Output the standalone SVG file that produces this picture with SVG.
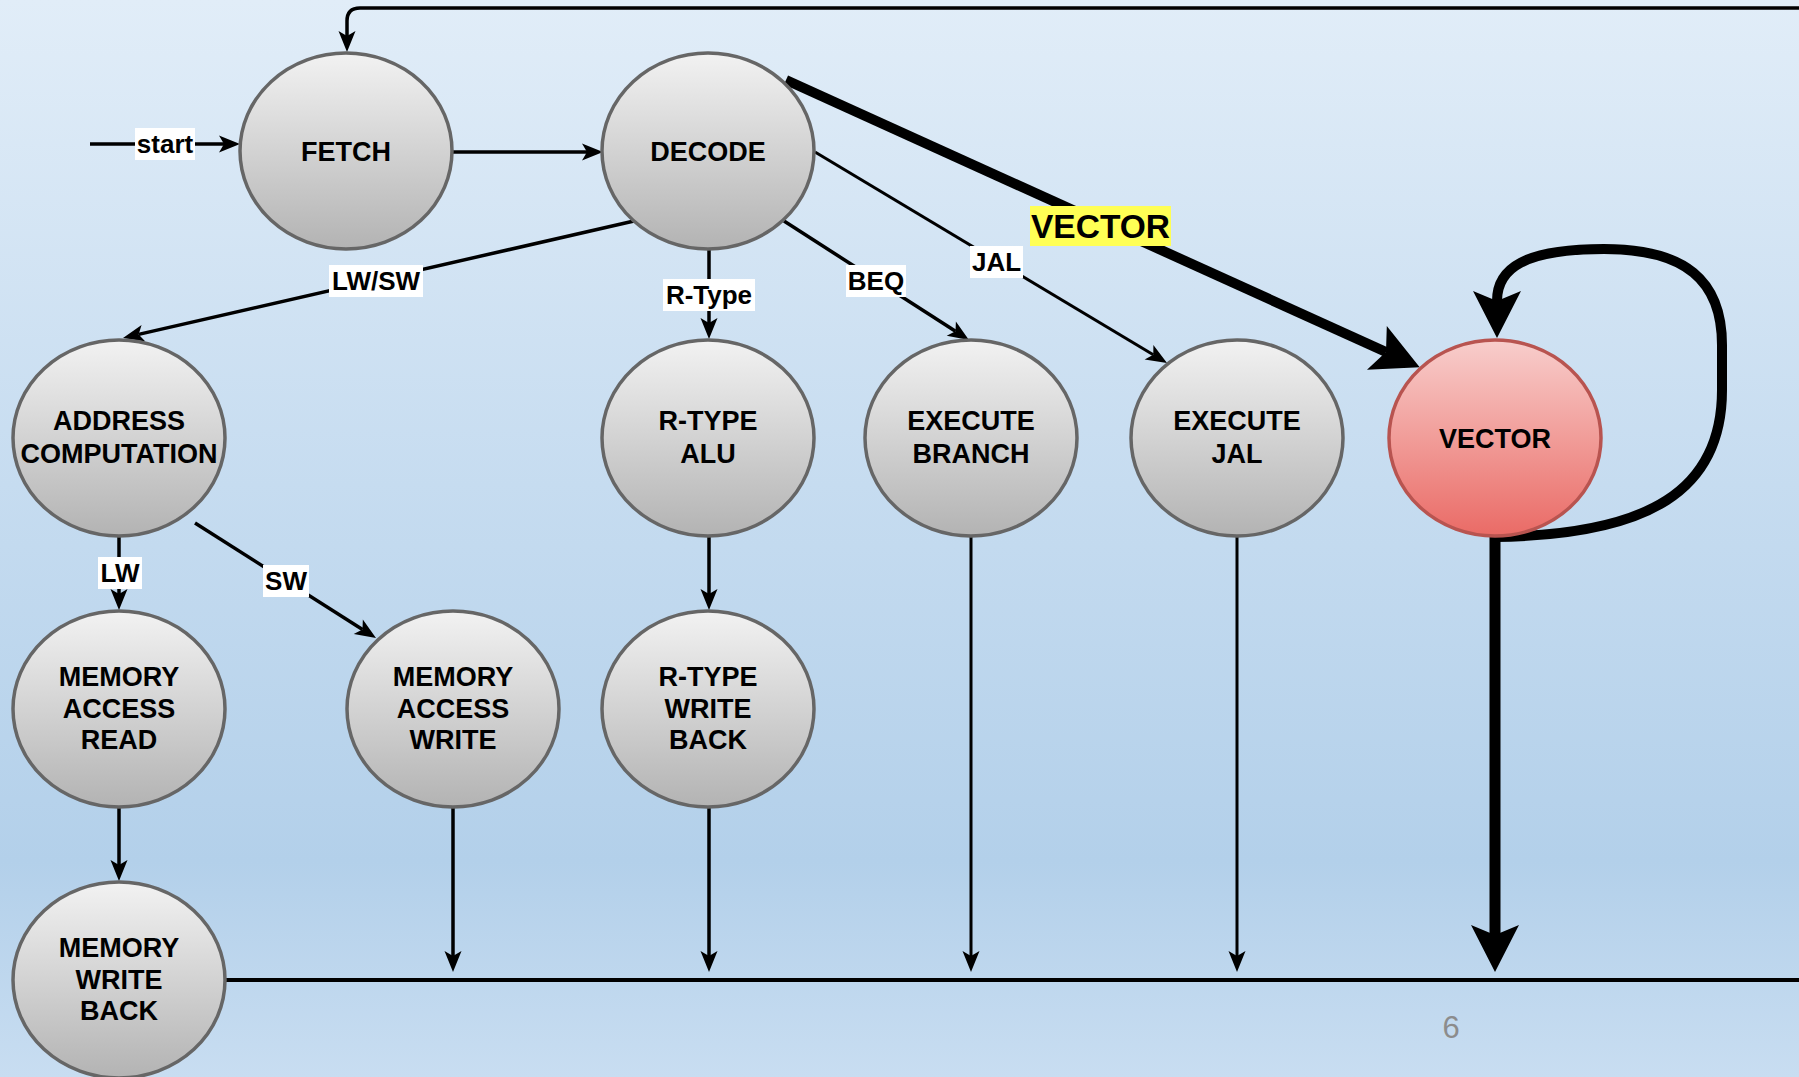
<svg xmlns="http://www.w3.org/2000/svg" width="1799" height="1077" viewBox="0 0 1799 1077">
<defs>
<linearGradient id="bg" x1="0" y1="0" x2="0" y2="1">
<stop offset="0" stop-color="#e1edf8"/>
<stop offset="0.45" stop-color="#c6dcf0"/>
<stop offset="0.8" stop-color="#b3d0ea"/>
<stop offset="1" stop-color="#c8ddf1"/>
</linearGradient>
<linearGradient id="gGrey" x1="0" y1="0" x2="0" y2="1">
<stop offset="0" stop-color="#f2f2f2"/>
<stop offset="1" stop-color="#b3b3b3"/>
</linearGradient>
<linearGradient id="gRed" x1="0" y1="0" x2="0" y2="1">
<stop offset="0" stop-color="#f8cecc"/>
<stop offset="1" stop-color="#ea6b66"/>
</linearGradient>
<marker id="thin" markerUnits="userSpaceOnUse" markerWidth="24" markerHeight="20" refX="5" refY="0" viewBox="0 -10 24 20" orient="auto" overflow="visible">
<path d="M21,0 L0,-8.5 L5,0 L0,8.5 Z" fill="#000"/>
</marker>
<marker id="big" markerUnits="userSpaceOnUse" markerWidth="50" markerHeight="52" refX="10" refY="0" viewBox="0 -26 50 52" orient="auto" overflow="visible">
<path d="M47,0 L0,-24 L10,0 L0,24 Z" fill="#000"/>
</marker>
</defs>
<style>
.node{stroke:#666666;stroke-width:3.5;fill:url(#gGrey)}
.vec{stroke:#b85450;stroke-width:3.5;fill:url(#gRed)}
.nt{font-family:"Liberation Sans",Arial,sans-serif;font-weight:bold;font-size:27px;fill:#000;text-anchor:middle}
.ln{fill:none;stroke:#000;stroke-width:3.5}
.th{fill:none;stroke:#000;stroke-width:11}
.lbl{font-family:"Liberation Sans",Arial,sans-serif;font-weight:bold;font-size:26px;fill:#000;text-anchor:middle}
.lb{fill:#ffffff}
</style>
<rect x="0" y="0" width="1799" height="1077" fill="url(#bg)"/>
<text x="1451" y="1038" font-family="Liberation Sans, Arial, sans-serif" font-size="31" fill="#8c8c8c" text-anchor="middle">6</text>

<g id="connectors">
<path class="ln" d="M90,144 L224,144" marker-end="url(#thin)"/>
<path class="ln" d="M452,152 L587,152" marker-end="url(#thin)"/>
<path class="ln" d="M1799,8 L360,8 Q347,8 347,21 L347,36" marker-end="url(#thin)"/>
<path class="ln" d="M634,221 L138.6,334.4" marker-end="url(#thin)"/>
<path class="ln" d="M709,250 L709,323" marker-end="url(#thin)"/>
<path class="ln" d="M784,221 L955.5,331.3" marker-end="url(#thin)"/>
<path class="ln" style="stroke-width:3" d="M815,152 L1153.3,354.8" marker-end="url(#thin)"/>
<path class="th" style="stroke-width:10" d="M786,80 L1386,352" marker-end="url(#big)"/>
<path class="ln" d="M119,537 L119,594" marker-end="url(#thin)"/>
<path class="ln" d="M195,523 L362.5,629.4" marker-end="url(#thin)"/>
<path class="ln" d="M709,537 L709,594" marker-end="url(#thin)"/>
<path class="ln" d="M119,808 L119,865" marker-end="url(#thin)"/>
<path class="ln" d="M453,808 L453,956" marker-end="url(#thin)"/>
<path class="ln" d="M709,808 L709,956" marker-end="url(#thin)"/>
<path class="ln" style="stroke-width:3" d="M971,537 L971,956" marker-end="url(#thin)"/>
<path class="ln" style="stroke-width:3" d="M1237,537 L1237,956" marker-end="url(#thin)"/>
<path class="th" d="M1495,537 L1495,935" marker-end="url(#big)"/>
<path class="th" style="stroke-width:10" d="M1495,537 C1650,535 1722,490 1722,390 L1722,345 C1722,280 1685,249 1604,249 C1525,249 1497,268 1497,301" marker-end="url(#big)"/>
<path class="ln" style="stroke-width:4" d="M225,980 L1799,980"/>

<rect class="lb" x="135" y="128" width="60" height="32"/>
<text class="lbl" x="165" y="153.3">start</text>
<rect class="lb" x="329" y="265" width="94" height="32"/>
<text class="lbl" x="376" y="290.3">LW/SW</text>
<rect class="lb" x="663" y="279" width="92" height="32"/>
<text class="lbl" x="709" y="304.3">R-Type</text>
<rect class="lb" x="846" y="265" width="60" height="32"/>
<text class="lbl" x="876" y="290.3">BEQ</text>
<rect class="lb" x="970" y="246" width="53" height="32"/>
<text class="lbl" x="996.5" y="271.3">JAL</text>
<rect fill="#ffff55" x="1030" y="206" width="141" height="40"/>
<text class="lbl" style="font-size:33.5px" x="1100.5" y="238">VECTOR</text>
<rect class="lb" x="98" y="557" width="44" height="32"/>
<text class="lbl" x="120" y="582.3">LW</text>
<rect class="lb" x="263" y="565" width="46" height="32"/>
<text class="lbl" x="286" y="590.3">SW</text>
</g>

<g id="fetch">
<ellipse class="node" cx="346" cy="151" rx="106" ry="98"/>
<text class="nt" x="346" y="160.5">FETCH</text>
</g>
<g id="decode">
<ellipse class="node" cx="708" cy="151" rx="106" ry="98"/>
<text class="nt" x="708" y="160.5">DECODE</text>
</g>
<g id="address-computation">
<ellipse class="node" cx="119" cy="438" rx="106" ry="98"/>
<text class="nt" x="119" y="430">ADDRESS</text>
<text class="nt" x="119" y="462.5">COMPUTATION</text>
</g>
<g id="rtype-alu">
<ellipse class="node" cx="708" cy="438" rx="106" ry="98"/>
<text class="nt" x="708" y="430">R-TYPE</text>
<text class="nt" x="708" y="462.5">ALU</text>
</g>
<g id="execute-branch">
<ellipse class="node" cx="971" cy="438" rx="106" ry="98"/>
<text class="nt" x="971" y="430">EXECUTE</text>
<text class="nt" x="971" y="462.5">BRANCH</text>
</g>
<g id="execute-jal">
<ellipse class="node" cx="1237" cy="438" rx="106" ry="98"/>
<text class="nt" x="1237" y="430">EXECUTE</text>
<text class="nt" x="1237" y="462.5">JAL</text>
</g>
<g id="vector">
<ellipse class="vec" cx="1495" cy="438" rx="106" ry="98"/>
<text class="nt" x="1495" y="447.5">VECTOR</text>
</g>
<g id="memory-access-read">
<ellipse class="node" cx="119" cy="709" rx="106" ry="98"/>
<text class="nt" x="119" y="686">MEMORY</text>
<text class="nt" x="119" y="717.5">ACCESS</text>
<text class="nt" x="119" y="749">READ</text>
</g>
<g id="memory-access-write">
<ellipse class="node" cx="453" cy="709" rx="106" ry="98"/>
<text class="nt" x="453" y="686">MEMORY</text>
<text class="nt" x="453" y="717.5">ACCESS</text>
<text class="nt" x="453" y="749">WRITE</text>
</g>
<g id="rtype-write-back">
<ellipse class="node" cx="708" cy="709" rx="106" ry="98"/>
<text class="nt" x="708" y="686">R-TYPE</text>
<text class="nt" x="708" y="717.5">WRITE</text>
<text class="nt" x="708" y="749">BACK</text>
</g>
<g id="memory-write-back">
<ellipse class="node" cx="119" cy="980" rx="106" ry="98"/>
<text class="nt" x="119" y="957">MEMORY</text>
<text class="nt" x="119" y="988.5">WRITE</text>
<text class="nt" x="119" y="1020">BACK</text>
</g>
</svg>
